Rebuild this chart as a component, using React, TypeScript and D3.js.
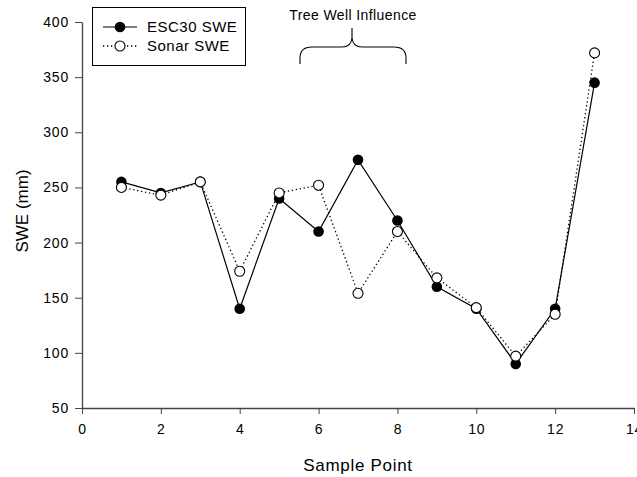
import React, { useEffect, useRef } from 'react';
import * as d3 from 'd3';

// sample points and the two SWE series
const samplePoints = [1, 2, 3, 4, 5, 6, 7, 8, 9, 10, 11, 12, 13];
const esc30Swe = [255, 245, 255, 140, 240, 210, 275, 220, 160, 140, 90, 140, 345];
const sonarSwe = [250, 243, 255, 174, 245, 252, 154, 210, 168, 141, 97, 135, 372];
const xTicks = [0, 2, 4, 6, 8, 10, 12, 14];
const yTicks = [50, 100, 150, 200, 250, 300, 350, 400];

const W = 637;
const H = 477;

export default function App() {
  const ref = useRef<SVGSVGElement>(null);

  useEffect(() => {
    const svg = d3.select(ref.current);
    svg.selectAll('*').remove();
    const font = 'Liberation Sans, Arial, sans-serif';

    const x = d3.scaleLinear().domain([0, 14]).range([82, 634]);
    const y = d3.scaleLinear().domain([50, 400]).range([408, 22]);

    // y axis
    const yAxis = svg.append('g')
      .attr('transform', 'translate(82,0)')
      .call(d3.axisLeft(y).tickValues(yTicks).tickSize(7).tickPadding(6).tickSizeOuter(0));
    yAxis.select('.domain').attr('stroke', '#444').attr('stroke-width', 1.3);
    yAxis.selectAll('line').attr('stroke', '#444');
    yAxis.selectAll('text').attr('font-family', font).attr('font-size', 14)
      .attr('letter-spacing', 0.8).attr('fill', '#000');

    // x axis
    const xAxis = svg.append('g')
      .attr('transform', 'translate(0,408)')
      .call(d3.axisBottom(x).tickValues(xTicks).tickSize(6).tickPadding(10).tickSizeOuter(0));
    xAxis.select('.domain').attr('stroke', '#444').attr('stroke-width', 1.3);
    xAxis.selectAll('line').attr('stroke', '#444');
    xAxis.selectAll('text').attr('font-family', font).attr('font-size', 14)
      .attr('letter-spacing', 0.8).attr('fill', '#000');

    svg.append('text')
      .attr('x', 358).attr('y', 471)
      .attr('text-anchor', 'middle')
      .attr('font-family', font).attr('font-size', 17)
      .attr('letter-spacing', 0.7)
      .text('Sample Point');

    svg.append('text')
      .attr('transform', 'translate(28,211) rotate(-90)')
      .attr('text-anchor', 'middle')
      .attr('font-family', font).attr('font-size', 17)
      .text('SWE (mm)');

    const line = d3.line<number>()
      .x((d, i) => x(samplePoints[i]))
      .y((d) => y(d));

    svg.append('path')
      .attr('d', line(sonarSwe))
      .attr('fill', 'none')
      .attr('stroke', '#000')
      .attr('stroke-width', 1.3)
      .attr('stroke-dasharray', '1.3,2.7');

    svg.append('path')
      .attr('d', line(esc30Swe))
      .attr('fill', 'none')
      .attr('stroke', '#000')
      .attr('stroke-width', 1.2);

    svg.append('g').selectAll('circle')
      .data(esc30Swe)
      .enter()
      .append('circle')
      .attr('cx', (d, i) => x(samplePoints[i]))
      .attr('cy', (d) => y(d))
      .attr('r', 5.3)
      .attr('fill', '#000');

    svg.append('g').selectAll('circle')
      .data(sonarSwe)
      .enter()
      .append('circle')
      .attr('cx', (d, i) => x(samplePoints[i]))
      .attr('cy', (d) => y(d))
      .attr('r', 5)
      .attr('fill', '#fff')
      .attr('stroke', '#000')
      .attr('stroke-width', 1.1);

    // legend
    const lg = svg.append('g');
    lg.append('rect')
      .attr('x', 92.5).attr('y', 7.5).attr('width', 153).attr('height', 58)
      .attr('fill', '#fff').attr('stroke', '#000').attr('stroke-width', 1);
    lg.append('line').attr('x1', 103).attr('x2', 137).attr('y1', 27).attr('y2', 27)
      .attr('stroke', '#000').attr('stroke-width', 1.2);
    lg.append('circle').attr('cx', 120).attr('cy', 27).attr('r', 5.3).attr('fill', '#000');
    lg.append('line').attr('x1', 103).attr('x2', 137).attr('y1', 46).attr('y2', 46)
      .attr('stroke', '#000').attr('stroke-width', 1.3).attr('stroke-dasharray', '1.3,2.7');
    lg.append('circle').attr('cx', 120).attr('cy', 46).attr('r', 5)
      .attr('fill', '#fff').attr('stroke', '#000').attr('stroke-width', 1.1);
    lg.append('text').attr('x', 147).attr('y', 32)
      .attr('font-family', font).attr('font-size', 15).attr('letter-spacing', 0.5).text('ESC30 SWE');
    lg.append('text').attr('x', 147).attr('y', 51)
      .attr('font-family', font).attr('font-size', 15).attr('letter-spacing', 0.5).text('Sonar SWE');

    // brace annotation
    svg.append('path')
      .attr('d', 'M300,64 L300,58 Q300,47 312,47 L342,47 Q351,47 352,38 L352,28 M352,38 Q353,47 362,47 L394,47 Q406,47 406,58 L406,64')
      .attr('fill', 'none')
      .attr('stroke', '#000')
      .attr('stroke-width', 1.1);
    svg.append('text')
      .attr('x', 353).attr('y', 20)
      .attr('text-anchor', 'middle')
      .attr('font-family', font).attr('font-size', 14)
      .attr('letter-spacing', 0.4)
      .text('Tree Well Influence');
  }, []);

  return (
    <svg ref={ref} width={W} height={H}
      style={{ position: 'absolute', left: 0, top: 0, background: '#fff' }} />
  );
}
